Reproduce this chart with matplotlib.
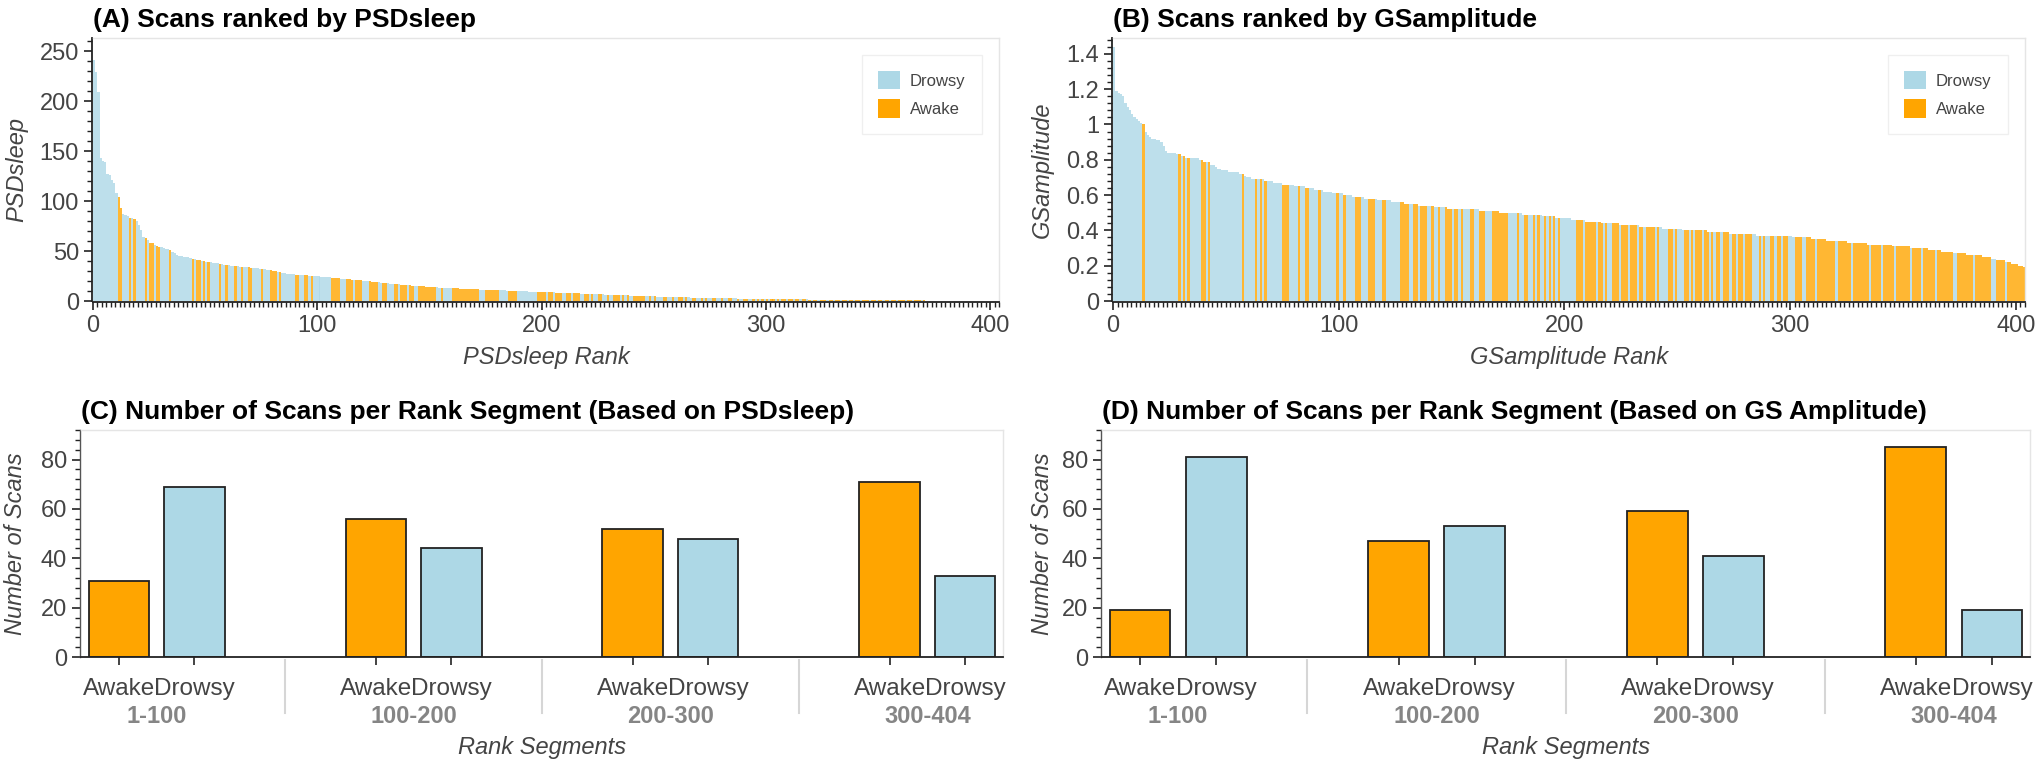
import numpy as np
import matplotlib
matplotlib.use('Agg')
import matplotlib.pyplot as plt
from matplotlib.patches import Patch
from matplotlib.ticker import MultipleLocator, FuncFormatter
import matplotlib.transforms as mtransforms

plt.rcParams['font.family'] = ['Liberation Sans', 'DejaVu Sans']

awake_col = '#ffa500'
drowsy_col = '#add8e6'

# ranked PSDsleep values (rank 1..404)
psd_values = [
    241, 229, 209, 143, 140, 139, 127, 126, 121, 118, 108, 104, 93, 87, 86, 85, 83, 83, 82, 80,
    76, 71, 64, 63, 61, 58, 58, 56, 55, 54, 54, 53, 52, 52, 51, 49, 48, 46, 45, 45,
    44, 44, 44, 43, 42, 42, 41, 41, 40, 40, 39, 39, 39, 38, 38, 38, 37, 37, 36, 36,
    36, 35, 35, 35, 35, 34, 34, 34, 34, 34, 33, 33, 33, 33, 32, 32, 32, 31, 31, 31,
    30, 30, 29, 29, 28, 28, 27, 27, 27, 27, 26, 26, 26, 26, 26, 26, 25, 25, 25, 25,
    25, 24, 24, 24, 24, 24, 23, 23, 23, 23, 22, 22, 22, 22, 22, 21, 21, 21, 21, 21,
    20, 20, 20, 20, 19, 19, 19, 19, 18, 18, 18, 18, 17, 17, 17, 17, 17, 16, 16, 16,
    16, 16, 15, 15, 15, 15, 15, 15, 14, 14, 14, 14, 14, 14, 13, 13, 13, 13, 13, 13,
    13, 13, 13, 12, 12, 12, 12, 12, 12, 12, 12, 12, 11.5, 11.5, 11.5, 11.5, 11.2, 11.2, 11.2, 11.2,
    11.0, 10.8, 10.7, 10.6, 10.5, 10.4, 10.3, 10.2, 10.1, 10.0, 9.9, 9.8, 9.7, 9.6, 9.5, 9.4, 9.3, 9.2, 9.1, 9.0,
    9.0, 8.9, 8.8, 8.8, 8.7, 8.6, 8.5, 8.4, 8.3, 8.2, 8.1, 8.0, 7.9, 7.9, 7.8, 7.7, 7.6, 7.5, 7.4, 7.3,
    7.2, 7.1, 7.0, 6.9, 6.9, 6.8, 6.7, 6.6, 6.5, 6.4, 6.3, 6.2, 6.1, 6.0, 6.0, 5.9, 5.8, 5.7, 5.6, 5.5,
    5.4, 5.3, 5.3, 5.2, 5.1, 5.0, 4.9, 4.8, 4.8, 4.7, 4.6, 4.5, 4.5, 4.4, 4.3, 4.2, 4.2, 4.1, 4.0, 3.9,
    3.9, 3.8, 3.8, 3.7, 3.6, 3.6, 3.5, 3.5, 3.4, 3.4, 3.3, 3.3, 3.2, 3.2, 3.1, 3.1, 3.0, 3.0, 2.9, 2.9,
    2.8, 2.8, 2.7, 2.7, 2.7, 2.6, 2.6, 2.5, 2.5, 2.5, 2.4, 2.4, 2.3, 2.3, 2.3, 2.2, 2.2, 2.2, 2.1, 2.1,
    2.1, 2.0, 2.0, 2.0, 1.9, 1.9, 1.9, 1.9, 1.8, 1.8, 1.8, 1.7, 1.7, 1.7, 1.7, 1.6, 1.6, 1.6, 1.6, 1.5,
    1.5, 1.5, 1.5, 1.4, 1.4, 1.4, 1.4, 1.3, 1.3, 1.3, 1.3, 1.3, 1.2, 1.2, 1.2, 1.2, 1.2, 1.1, 1.1, 1.1,
    1.1, 1.1, 1.0, 1.0, 1.0, 1.0, 1.0, 0.9, 0.9, 0.9, 0.9, 0.9, 0.9, 0.8, 0.8, 0.8, 0.8, 0.8, 0.8, 0.7,
    0.7, 0.7, 0.7, 0.7, 0.7, 0.6, 0.6, 0.6, 0.6, 0.6, 0.6, 0.5, 0.5, 0.5, 0.5, 0.5, 0.5, 0.4, 0.4, 0.4,
    0.4, 0.4, 0.4, 0.4, 0.3, 0.3, 0.3, 0.3, 0.3, 0.3, 0.3, 0.2, 0.2, 0.2, 0.2, 0.2, 0.2, 0.2, 0.1, 0.1,
    0.1, 0.1, 0.1, 0.1,
]
# state of each scan in PSDsleep rank order (A = Awake, D = Drowsy)
psd_labels = "".join([
    "DDDDDDDDDDDAADDDADAD", "DDDADAADAADDDDADDDDD", "DDDDADAADADADDDDADDA",
    "DDDADDADDAADDDDADDDA", "AADADDDDDDAADDAADADD",
    "DDDDDDAAAADDDAAADAAA", "DDDAAAADDAADDDAADAAA", "DAADDAAAAAAAADDADDDD",
    "AAAAAAAAAAAADDDAAAAA", "ADDDDAAAADDDDDDDDDAA",
    "AADAADAAADDAADAAADDA", "ADADDAADDADDAAADADAD", "DAAAAADDADADDDAADDAD",
    "DAADADDAADDADADDAADD", "ADDAADDADDAADDADADAD",
    "ADAADADAADAADAADAADA", "DAADAAADAADAADAADAAD", "AADAAADAADAADAADAADA",
    "AADAADAAADAADAADAAAD", "AADAAADAADAAADAADAAD", "AADA",
])

# ranked GSamplitude values (rank 1..404)
gs_values = [
    1.44, 1.19, 1.18, 1.17, 1.16, 1.12, 1.10, 1.08, 1.06, 1.04, 1.03, 1.02, 1.01, 1.00, 0.96, 0.94, 0.93, 0.92, 0.92, 0.91,
    0.91, 0.90, 0.88, 0.85, 0.84, 0.84, 0.84, 0.84, 0.83, 0.83, 0.82, 0.82, 0.81, 0.81, 0.81, 0.81, 0.81, 0.81, 0.80, 0.80,
    0.79, 0.79, 0.79, 0.77, 0.77, 0.76, 0.75, 0.75, 0.74, 0.74, 0.74, 0.73, 0.73, 0.73, 0.73, 0.73, 0.72, 0.72, 0.71, 0.70,
    0.70, 0.69, 0.69, 0.69, 0.69, 0.69, 0.69, 0.68, 0.68, 0.68, 0.68, 0.67, 0.67, 0.67, 0.67, 0.66, 0.66, 0.66, 0.66, 0.66,
    0.65, 0.65, 0.65, 0.65, 0.65, 0.64, 0.64, 0.64, 0.64, 0.63, 0.63, 0.63, 0.63, 0.62, 0.62, 0.62, 0.62, 0.61, 0.61, 0.61,
    0.61, 0.61, 0.60, 0.60, 0.60, 0.60, 0.59, 0.59, 0.59, 0.59, 0.59, 0.58, 0.58, 0.58, 0.58, 0.58, 0.58, 0.57, 0.57, 0.57,
    0.57, 0.57, 0.57, 0.56, 0.56, 0.56, 0.56, 0.56, 0.56, 0.55, 0.55, 0.55, 0.55, 0.55, 0.55, 0.54, 0.54, 0.54, 0.54, 0.54,
    0.54, 0.54, 0.53, 0.53, 0.53, 0.53, 0.53, 0.53, 0.52, 0.52, 0.52, 0.52, 0.52, 0.52, 0.52, 0.52, 0.52, 0.52, 0.52, 0.52,
    0.52, 0.52, 0.51, 0.51, 0.51, 0.51, 0.51, 0.51, 0.51, 0.51, 0.51, 0.50, 0.50, 0.50, 0.50, 0.50, 0.50, 0.50, 0.50, 0.50,
    0.50, 0.49, 0.49, 0.49, 0.49, 0.49, 0.49, 0.49, 0.49, 0.49, 0.48, 0.48, 0.48, 0.48, 0.48, 0.48, 0.47, 0.47, 0.47, 0.47,
    0.47, 0.47, 0.47, 0.46, 0.46, 0.46, 0.46, 0.46, 0.46, 0.45, 0.45, 0.45, 0.45, 0.45, 0.45, 0.45, 0.44, 0.44, 0.44, 0.44,
    0.44, 0.44, 0.44, 0.44, 0.43, 0.43, 0.43, 0.43, 0.43, 0.43, 0.43, 0.43, 0.43, 0.42, 0.42, 0.42, 0.42, 0.42, 0.42, 0.42,
    0.42, 0.42, 0.42, 0.41, 0.41, 0.41, 0.41, 0.41, 0.41, 0.41, 0.41, 0.41, 0.40, 0.40, 0.40, 0.40, 0.40, 0.40, 0.40, 0.40,
    0.40, 0.40, 0.40, 0.39, 0.39, 0.39, 0.39, 0.39, 0.39, 0.39, 0.39, 0.39, 0.39, 0.38, 0.38, 0.38, 0.38, 0.38, 0.38, 0.38,
    0.38, 0.38, 0.38, 0.38, 0.38, 0.37, 0.37, 0.37, 0.37, 0.37, 0.37, 0.37, 0.37, 0.37, 0.37, 0.37, 0.37, 0.37, 0.37, 0.37,
    0.37, 0.36, 0.36, 0.36, 0.36, 0.36, 0.36, 0.36, 0.36, 0.35, 0.35, 0.35, 0.35, 0.35, 0.35, 0.35, 0.34, 0.34, 0.34, 0.34,
    0.34, 0.34, 0.34, 0.34, 0.34, 0.33, 0.33, 0.33, 0.33, 0.33, 0.33, 0.33, 0.33, 0.33, 0.32, 0.32, 0.32, 0.32, 0.32, 0.32,
    0.32, 0.32, 0.32, 0.32, 0.32, 0.31, 0.31, 0.31, 0.31, 0.31, 0.31, 0.31, 0.31, 0.30, 0.30, 0.30, 0.30, 0.30, 0.30, 0.30,
    0.30, 0.29, 0.29, 0.29, 0.29, 0.29, 0.29, 0.28, 0.28, 0.28, 0.28, 0.28, 0.27, 0.27, 0.27, 0.27, 0.27, 0.27, 0.26, 0.26,
    0.26, 0.26, 0.26, 0.26, 0.26, 0.25, 0.25, 0.25, 0.25, 0.24, 0.24, 0.23, 0.23, 0.23, 0.23, 0.22, 0.22, 0.22, 0.21, 0.21,
    0.21, 0.20, 0.20, 0.19,
]
gs_labels = "".join([
    "DDDDDDDDDDDDDADDDDDD", "DDDDDDDDDADADADDDDDA", "ADADDDDDDDDDDDDDDADD",
    "DDDADADADDDDDDDAAADD", "DDADDAADDDDADDDDDDDA",
    "DDADDDDAAADDDAAADDDA", "ADDDDDDAAAADDAADAAAD", "DADDADDAAADAADADDDAA",
    "DDAAADDDAAAAAAADDDDA", "DDAADDADADDADADADADD",
    "DDDDDAAADAAAAADAADAD", "DAAADAAADAAADAADAAAA", "DADDDDAADADDDAADADAA",
    "ADAADADAADAAADAADAAD", "AAADDDADADDAADAADAAD",
    "DDAAADDAAAADAAAAAAAA", "DAAAAAADAAAAAAADAAAA", "DAAAAADAAAAAADAAAADA",
    "AAAADAAAAAAADDAAAAAA", "ADAAAAAAADDAAAADAAAA", "AAAA",
])

# scans per rank segment
segments = ["1-100", "100-200", "200-300", "300-404"]
psd_awake_counts = [31, 56, 52, 71]
psd_drowsy_counts = [69, 44, 48, 33]
gs_awake_counts = [19, 47, 59, 85]
gs_drowsy_counts = [81, 53, 41, 19]

assert len(psd_values) == len(psd_labels) == 404
assert len(gs_values) == len(gs_labels) == 404

fig = plt.figure(figsize=(20.4, 7.69), dpi=100)
W, H = 2040.0, 769.0


def px_rect(left, top, right, bottom):
    return [left / W, 1 - bottom / H, (right - left) / W, (bottom - top) / H]


def style_axes(ax):
    for s in ['top', 'right']:
        ax.spines[s].set_color('#e5e5e5')
        ax.spines[s].set_linewidth(1)
    for s in ['left', 'bottom']:
        ax.spines[s].set_color('#222222')
        ax.spines[s].set_linewidth(1.3)
        ax.spines[s].set_position(('outward', 1))
    ax.tick_params(which='major', direction='out', length=6, width=1.2, color='#222222',
                   labelsize=17, labelcolor='#444444', pad=3)
    ax.tick_params(which='minor', direction='out', length=3.5, width=1, color='#222222')


def rank_panel(rect, values, labels, title, ylabel, xlabel, ymax, ystep, ylab_x):
    ax = fig.add_axes(rect)
    x = np.arange(len(values))
    cols = [awake_col if c == 'A' else drowsy_col for c in labels]
    ax.bar(x, values, width=1.0, align='edge', color=cols, alpha=0.8, linewidth=0)
    ax.set_xlim(0, 404)
    ax.set_ylim(0, ymax)
    ax.xaxis.set_major_locator(MultipleLocator(100))
    ax.xaxis.set_minor_locator(MultipleLocator(2))
    ax.yaxis.set_major_locator(MultipleLocator(ystep))
    ax.yaxis.set_minor_locator(MultipleLocator(ystep / 5))
    ax.yaxis.set_major_formatter(FuncFormatter(lambda v, p: '%g' % round(v, 3)))
    style_axes(ax)
    ax.set_title(title, loc='left', fontsize=19, fontweight='bold', pad=8)
    ax.text(0.5, -0.215, xlabel, transform=ax.transAxes, ha='center', va='center',
            fontsize=17, style='italic', color='#444444')
    ax.text(ylab_x, 0.5, ylabel, transform=ax.transAxes, ha='center', va='center',
            rotation=90, fontsize=17, style='italic', color='#444444')
    handles = [Patch(facecolor=drowsy_col, label='Drowsy'), Patch(facecolor=awake_col, label='Awake')]
    leg = ax.legend(handles=handles, loc='upper right', fontsize=12, frameon=True, fancybox=False,
                    borderaxespad=1.0, handlelength=1.3, handleheight=1.3, borderpad=1.0,
                    labelspacing=0.6, handletextpad=0.6)
    leg.get_frame().set_edgecolor('#ececec')
    leg.get_frame().set_linewidth(1)
    for t in leg.get_texts():
        t.set_color('#444444')
    return ax


def count_panel(rect, awake, drowsy, title, ylab_x):
    ax = fig.add_axes(rect)
    gpos = np.arange(len(segments)) * 3.4
    ax.bar(gpos + 0.5, awake, width=0.8, color=awake_col, edgecolor='#222222', linewidth=1.3)
    ax.bar(gpos + 1.5, drowsy, width=0.8, color=drowsy_col, edgecolor='#222222', linewidth=1.3)
    ax.set_xlim(0, gpos[-1] + 2)
    ax.set_ylim(0, 92)
    ticks = np.ravel(np.column_stack([gpos + 0.5, gpos + 1.5]))
    ax.set_xticks(ticks)
    ax.set_xticklabels(['Awake', 'Drowsy'] * len(segments))
    ax.yaxis.set_major_locator(MultipleLocator(20))
    ax.yaxis.set_minor_locator(MultipleLocator(4))
    style_axes(ax)
    ax.spines['left'].set_color('#555555')
    ax.spines['left'].set_linewidth(1)
    ax.spines['bottom'].set_position(('outward', 0))
    ax.tick_params(axis='x', which='major', pad=9, labelsize=17.5)
    trans = mtransforms.blended_transform_factory(ax.transData, ax.transAxes)
    for g, seg in zip(gpos, segments):
        ax.text(g + 1.0, -0.262, seg, transform=trans, ha='center', va='center',
                fontsize=17, fontweight='bold', color='#858585')
    for g in gpos[1:]:
        ax.plot([g - 0.7, g - 0.7], [-0.015, -0.245], transform=trans, color='#d6d6d6',
                linewidth=1.5, clip_on=False)
    ax.set_title(title, loc='left', fontsize=19, fontweight='bold', pad=8)
    ax.text(0.5, -0.40, 'Rank Segments', transform=ax.transAxes, ha='center', va='center',
            fontsize=17, style='italic', color='#444444')
    ax.text(ylab_x, 0.5, 'Number of Scans', transform=ax.transAxes, ha='center', va='center',
            rotation=90, fontsize=17, style='italic', color='#444444')
    return ax


rank_panel(px_rect(93, 38, 999, 301), psd_values, psd_labels,
           '(A) Scans ranked by PSDsleep', 'PSDsleep', 'PSDsleep Rank', 263, 50, -0.084)
rank_panel(px_rect(1113, 38, 2025, 301), gs_values, gs_labels,
           '(B) Scans ranked by GSamplitude', 'GSamplitude', 'GSamplitude Rank', 1.49, 0.2, -0.077)
count_panel(px_rect(81, 430, 1003, 657), psd_awake_counts, psd_drowsy_counts,
            '(C) Number of Scans per Rank Segment (Based on PSDsleep)', -0.071)
count_panel(px_rect(1102, 430, 2030, 657), gs_awake_counts, gs_drowsy_counts,
            '(D) Number of Scans per Rank Segment (Based on GS Amplitude)', -0.064)

fig.savefig('out.png', dpi=100, facecolor='white')
